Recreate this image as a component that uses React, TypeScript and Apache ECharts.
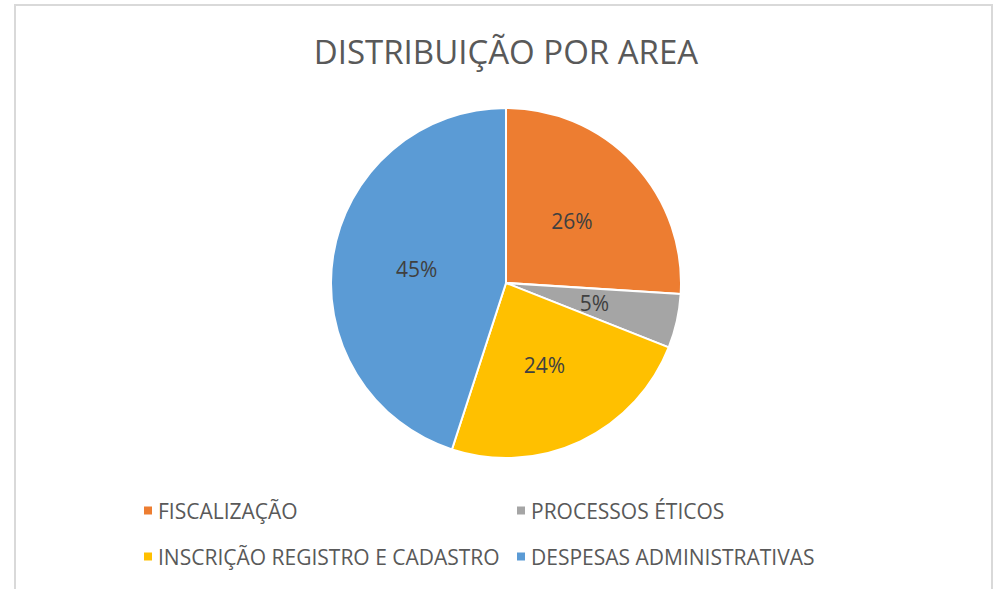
import React, { useEffect, useRef } from "react";
import * as echarts from "echarts";

const categories = [
  "FISCALIZAÇÃO",
  "PROCESSOS ÉTICOS",
  "INSCRIÇÃO REGISTRO E CADASTRO",
  "DESPESAS ADMINISTRATIVAS",
];
const values = [26, 5, 24, 45];
const colors = ["#ED7D31", "#A5A5A5", "#FFC000", "#5B9BD5"];
const titleText = "DISTRIBUIÇÃO POR AREA";

export default function App() {
  const ref = useRef<HTMLDivElement>(null);
  useEffect(() => {
    document.body.style.margin = "0";
    const chart = echarts.init(ref.current!, null, { renderer: "svg" });
    const font = "'Open Sans', 'Noto Sans', sans-serif";
    const legendBase = {
      orient: "vertical" as const,
      itemWidth: 10,
      itemHeight: 10,
      itemGap: 25,
      icon: "rect",
      textStyle: { color: "#595959", fontSize: 21, fontFamily: font, padding: [0, 0, 0, 0] },
      padding: 0,
      selectedMode: false,
    };
    chart.setOption({
      animation: false,
      backgroundColor: "#ffffff",
      title: {
        text: titleText,
        left: 501,
        textAlign: "center",
        top: 30,
        textStyle: { color: "#595959", fontSize: 33, fontWeight: "normal", fontFamily: font },
      },
      graphic: [
        {
          type: "rect",
          shape: { x: 15, y: 5, width: 977, height: 620 },
          style: { fill: "none", stroke: "#d9d9d9", lineWidth: 2 },
          silent: true,
        },
      ],
      legend: [
        { ...legendBase, data: [categories[0], categories[2]], left: 142, top: 500 },
        { ...legendBase, data: [categories[1], categories[3]], left: 515, top: 500 },
      ],
      series: [
        {
          type: "pie",
          center: [506, 283],
          radius: [0, 175],
          startAngle: 90,
          clockwise: true,
          data: categories.map((name, i) => ({
            name,
            value: values[i],
            itemStyle: { color: colors[i] },
          })),
          itemStyle: { borderColor: "#ffffff", borderWidth: 2 },
          label: {
            show: true,
            position: "inside",
            formatter: "{d}%",
            color: "#404040",
            fontSize: 21,
            fontFamily: font,
          },
          labelLine: { show: false },
          emphasis: { disabled: true },
        },
      ],
    });
    return () => chart.dispose();
  }, []);
  return <div ref={ref} style={{ width: 994, height: 589, position: "absolute", left: 0, top: 0 }} />;
}
